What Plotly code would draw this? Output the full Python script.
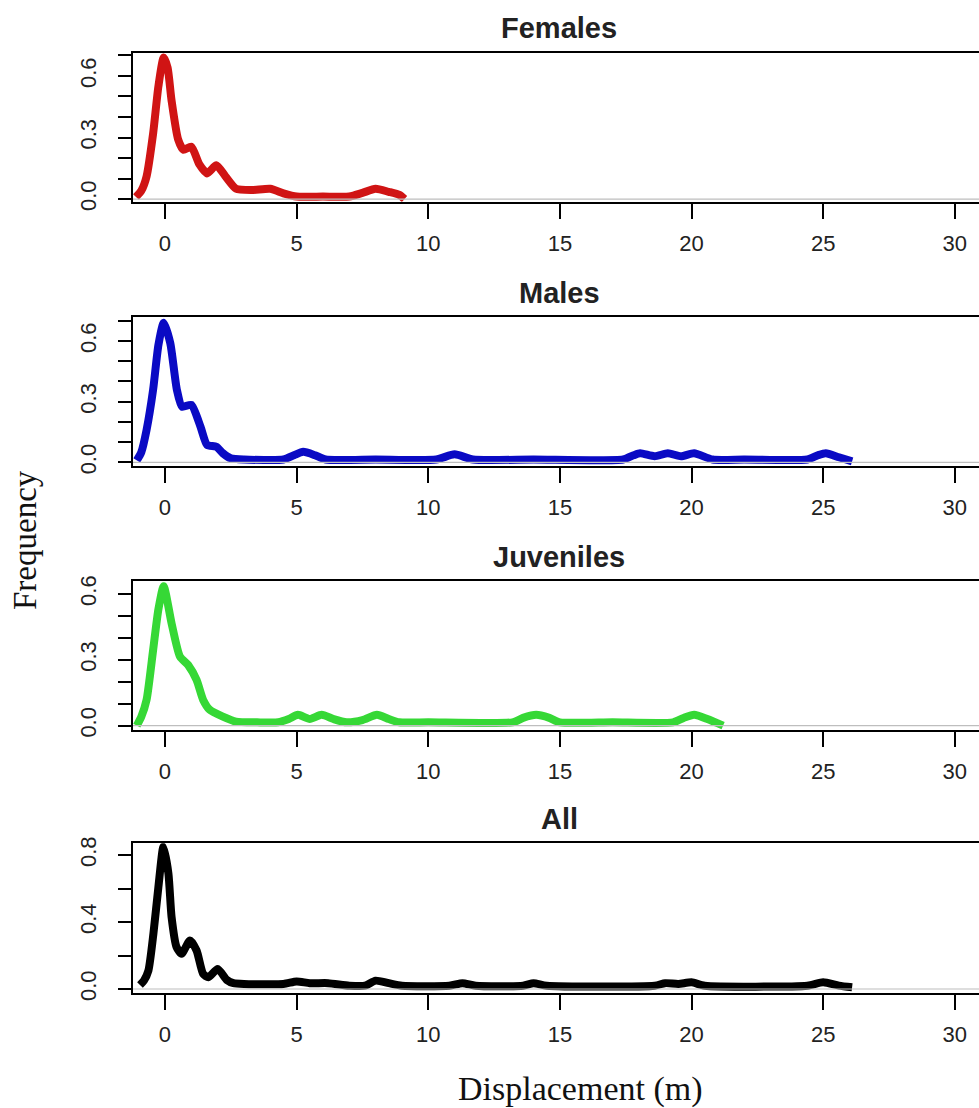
import plotly.graph_objects as go

# ---------------- data ----------------
panel_titles = ["Females", "Males", "Juveniles", "All"]

females_x = [-1.1, -0.9, -0.7, -0.45, -0.25, -0.05, 0.1, 0.25, 0.5, 0.7, 1.0, 1.3, 1.6, 1.95,
             2.3, 2.7, 3.3, 4.0, 4.5, 5.0, 6.0, 7.0, 7.5, 8.0, 8.5, 8.9, 9.1]
females_y = [0.01, 0.04, 0.11, 0.32, 0.55, 0.69, 0.64, 0.48, 0.29, 0.24, 0.255, 0.17, 0.125, 0.165,
             0.11, 0.05, 0.044, 0.05, 0.028, 0.012, 0.012, 0.012, 0.03, 0.05, 0.035, 0.02, 0.0]

males_x = [-1.07, -0.9, -0.7, -0.45, -0.25, -0.05, 0.2, 0.45, 0.65, 1.0, 1.35, 1.6, 1.95, 2.2,
           2.5, 3.0, 4.5, 4.9, 5.25, 5.7, 6.1, 8.0, 10.3, 11.0, 11.7, 14.0, 17.4, 17.8, 18.05,
           18.6, 19.1, 19.6, 20.1, 20.8, 22.0, 24.4, 24.8, 25.1, 25.6, 26.1]
males_y = [0.01, 0.05, 0.16, 0.36, 0.58, 0.69, 0.59, 0.36, 0.275, 0.284, 0.176, 0.086, 0.077, 0.045,
           0.02, 0.014, 0.014, 0.035, 0.052, 0.035, 0.014, 0.014, 0.014, 0.04, 0.014, 0.014, 0.014,
           0.035, 0.045, 0.03, 0.045, 0.03, 0.045, 0.014, 0.014, 0.014, 0.035, 0.045, 0.025, 0.005]

juveniles_x = [-1.07, -0.9, -0.7, -0.45, -0.25, -0.05, 0.25, 0.57, 0.88, 1.2, 1.45, 1.7, 2.2, 2.7,
               3.5, 4.3, 4.7, 5.05, 5.5, 5.95, 6.4, 6.9, 7.5, 8.05, 8.5, 8.9, 10.0, 13.2, 13.6,
               14.1, 14.6, 15.0, 17.0, 19.3, 19.7, 20.1, 20.6, 21.2]
juveniles_y = [0.0, 0.04, 0.117, 0.345, 0.53, 0.635, 0.466, 0.314, 0.276, 0.208, 0.117, 0.072, 0.041,
               0.018, 0.015, 0.015, 0.03, 0.049, 0.03, 0.049, 0.03, 0.015, 0.025, 0.049, 0.03, 0.015,
               0.015, 0.015, 0.035, 0.049, 0.035, 0.015, 0.015, 0.015, 0.035, 0.049, 0.03, 0.0]

all_x = [-0.95, -0.8, -0.63, -0.44, -0.25, -0.06, 0.13, 0.25, 0.44, 0.63, 0.95, 1.2, 1.45, 1.65,
         2.0, 2.35, 2.6, 3.0, 4.5, 5.0, 5.5, 6.2, 7.0, 7.6, 8.0, 8.5, 9.0, 10.8, 11.3, 11.8, 13.6,
         14.0, 14.5, 18.6, 19.0, 19.5, 20.0, 20.5, 24.4, 25.0, 25.6, 26.1]
all_y = [0.024, 0.05, 0.11, 0.33, 0.61, 0.85, 0.69, 0.43, 0.25, 0.21, 0.29, 0.23, 0.09, 0.07,
         0.12, 0.054, 0.035, 0.03, 0.03, 0.045, 0.035, 0.035, 0.02, 0.02, 0.05, 0.035, 0.02, 0.02,
         0.035, 0.02, 0.02, 0.035, 0.02, 0.02, 0.035, 0.03, 0.04, 0.02, 0.02, 0.04, 0.02, 0.01]

x_tick_vals = [0, 5, 10, 15, 20, 25, 30]
y_major = [0.3, 0.3, 0.3, 0.4]
y_minor = [0.1, 0.1, 0.1, 0.2]
y_ranges = [[-0.013, 0.712], [-0.018, 0.72], [-0.02, 0.66], [-0.022, 0.87]]
x_range = [-1.215, 30.92]

series = [(females_x, females_y, "#D01414"),
          (males_x, males_y, "#0A0AC4"),
          (juveniles_x, juveniles_y, "#36D836"),
          (all_x, all_y, "#000000")]

# ---------------- layout geometry (pixels) ----------------
W, H = 979, 1108
L = 133
panel_px = [(53, 201.7), (316.7, 466), (580.7, 730), (843.3, 992.7)]
title_px = [28, 293, 557, 819]
title_x_px = 559

def py(p):
    return 1 - p / H

def px(p):
    return (p - L) / (W - L)

fig = go.Figure()
layout = dict(
    width=W, height=H,
    margin=dict(l=L, r=0, t=0, b=0),
    paper_bgcolor="white", plot_bgcolor="white",
    showlegend=False,
    template="none",
)
shapes = []
annotations = []
tick_font = dict(family="Liberation Sans, Arial, sans-serif", size=22, color="#222222")

for i, ((xs, ys, col), (top, bot)) in enumerate(zip(series, panel_px)):
    n = "" if i == 0 else str(i + 1)
    fig.add_trace(go.Scatter(x=xs, y=ys, mode="lines",
                             line=dict(color=col, width=8, shape="spline", smoothing=0.6),
                             xaxis="x" + n, yaxis="y" + n, hoverinfo="skip"))
    layout["xaxis" + n] = dict(
        domain=[0, 1], anchor="y" + n, range=x_range, tickmode="array", tickvals=x_tick_vals,
        ticks="outside", ticklen=15, tickwidth=2, tickcolor="black",
        showline=True, linewidth=2, linecolor="black", mirror=True,
        showgrid=False, zeroline=False, tickfont=tick_font, automargin=False,
        ticklabelstandoff=6,
    )
    layout["yaxis" + n] = dict(
        domain=[py(bot), py(top)], anchor="x" + n, range=y_ranges[i],
        tickmode="linear", tick0=0, dtick=y_major[i], tickformat=".1f",
        ticks="outside", ticklen=13, tickwidth=2, tickcolor="black",
        minor=dict(dtick=y_minor[i], tick0=0, ticks="outside", ticklen=13, tickwidth=2,
                   tickcolor="black", showgrid=False),
        showline=True, linewidth=2, linecolor="black", mirror=True,
        showgrid=False, zeroline=False, tickangle=-90, tickfont=tick_font, automargin=False,
        ticklabelstandoff=13,
    )
    shapes.append(dict(type="line", xref="paper", yref="y" + n, x0=0, x1=1, y0=0, y1=0,
                       line=dict(color="#BEBEBE", width=1.2), layer="above"))
    annotations.append(dict(text="<b>" + panel_titles[i] + "</b>", xref="paper", yref="paper",
                            x=px(title_x_px), y=py(title_px[i]), xanchor="center", yanchor="middle",
                            showarrow=False,
                            font=dict(family="Liberation Sans, Arial, sans-serif", size=29,
                                      color="#222222")))

annotations.append(dict(text="Frequency", xref="paper", yref="paper", x=px(25), y=py(540),
                        xanchor="center", yanchor="middle", textangle=-90, showarrow=False,
                        font=dict(family="Liberation Serif, Times New Roman, serif", size=33,
                                  color="#111111")))
annotations.append(dict(text="Displacement (m)", xref="paper", yref="paper", x=px(580), y=py(1089),
                        xanchor="center", yanchor="middle", showarrow=False,
                        font=dict(family="Liberation Serif, Times New Roman, serif", size=34,
                                  color="#111111")))

layout["shapes"] = shapes
layout["annotations"] = annotations
fig.update_layout(**layout)
fig.write_html("out.html", config={"displayModeBar": False, "staticPlot": True},
               post_script="document.body.style.margin='0';document.body.style.overflow='hidden';")
